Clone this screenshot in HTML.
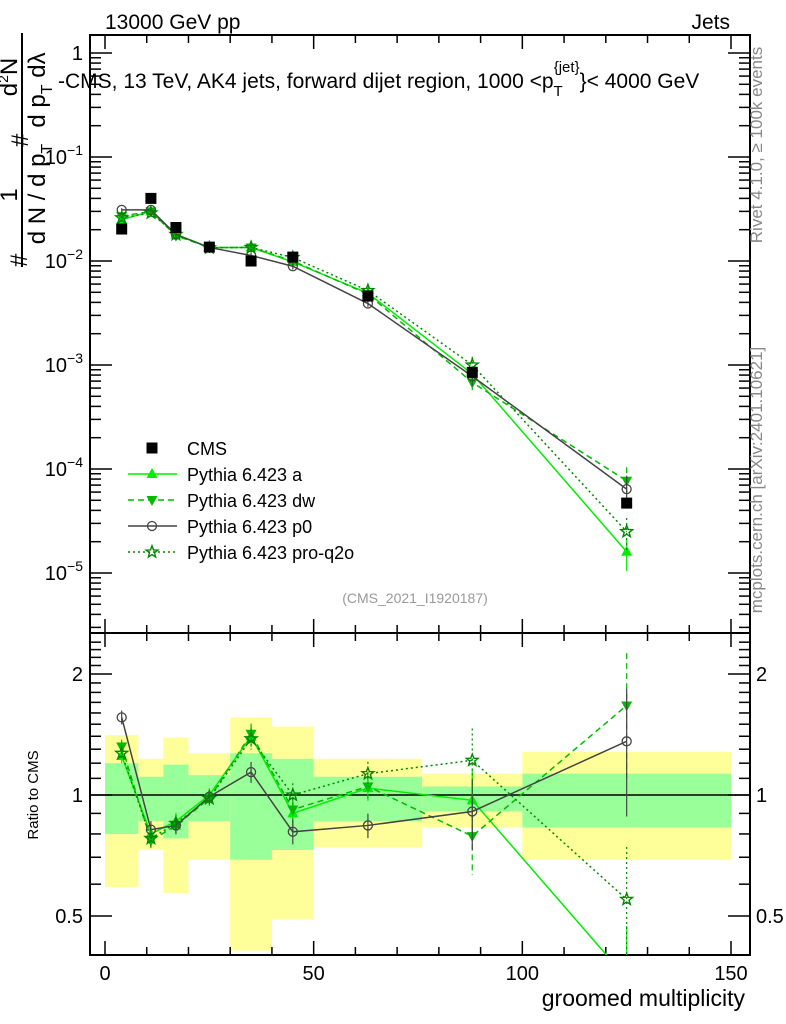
<!DOCTYPE html>
<html><head><meta charset="utf-8"><style>
body{margin:0;background:#fff;}
svg{display:block;font-family:"Liberation Sans",Arial,sans-serif;}
</style></head><body>
<svg id="chart" width="786" height="1024" viewBox="0 0 786 1024" xmlns="http://www.w3.org/2000/svg">
<g id="bands"></g>
<g id="axes"></g>
<g id="series"></g>
<text x="105" y="29" font-size="21">13000 GeV pp</text>
<text x="730" y="29" font-size="21" text-anchor="end">Jets</text>
<text x="58" y="88" font-size="21">-CMS, 13 TeV, AK4 jets, forward dijet region, 1000 &lt;p<tspan font-size="15" dy="8">T</tspan><tspan font-size="15" dx="-9" dy="-24">{jet}</tspan><tspan dy="16">}&lt; 4000 GeV</tspan></text>
<g font-size="24">
<line x1="22" y1="267" x2="22" y2="33" stroke="#000" stroke-width="2"/>
<text transform="translate(17,195) rotate(-90)" text-anchor="middle">1</text>
<text transform="translate(45,194) rotate(-90)" text-anchor="middle">d N / d p<tspan font-size="16" dy="7">T</tspan></text>
<text transform="translate(27,267) rotate(-90)" text-anchor="start">#</text>
<text transform="translate(28,147) rotate(-90)" text-anchor="start">#</text>
<text transform="translate(17,77) rotate(-90)" text-anchor="middle">d<tspan font-size="14" dy="-9">2</tspan><tspan dy="9">N</tspan></text>
<text transform="translate(45,90) rotate(-90)" text-anchor="middle">d p<tspan font-size="16" dy="7">T</tspan><tspan dy="-7">  dλ</tspan></text>
</g>
<text transform="translate(762,145) rotate(-90)" font-size="17" fill="#888" text-anchor="middle">Rivet 4.1.0, ≥ 100k events</text>
<text transform="translate(762,480) rotate(-90)" font-size="17" fill="#888" text-anchor="middle">mcplots.cern.ch [arXiv:2401.10621]</text>
<text x="415" y="603" font-size="14" fill="#999" text-anchor="middle">(CMS_2021_I1920187)</text>
<text transform="translate(38,795) rotate(-90)" font-size="15" text-anchor="middle">Ratio to CMS</text>
<text x="745" y="1006" font-size="23" text-anchor="end">groomed multiplicity</text>
<g id="legend"></g>
</svg>
<script>
const xCenters=[4,11,17,25,35,45,63,88,125];
const binEdges=[0,8,14,20,30,40,50,76,100,150];
const cmsVals=[0.0203,0.040,0.021,0.0136,0.0100,0.0109,0.0046,8.5e-4,4.7e-5];
const aVals=[0.025,0.030,0.018,0.0135,0.0135,0.0098,0.0049,8.2e-4,1.6e-5];
const dwVals=[0.027,0.030,0.0175,0.0135,0.0135,0.0100,0.0048,6.8e-4,7.7e-5];
const p0Vals=[0.031,0.031,0.018,0.0135,0.0113,0.0089,0.0039,7.8e-4,6.4e-5];
const pqVals=[0.026,0.029,0.018,0.0134,0.0135,0.0108,0.0052,1.0e-3,2.5e-5];
const aRatio=[1.25,0.80,0.86,1.0,1.40,0.90,1.04,0.97,0.35];
const dwRatio=[1.32,0.77,0.84,0.98,1.42,0.92,1.05,0.79,1.67];
const p0Ratio=[1.56,0.82,0.84,0.99,1.14,0.81,0.84,0.91,1.36];
const pqRatio=[1.27,0.78,0.85,0.98,1.38,1.0,1.13,1.22,0.55];
const relErr=[0.04,0.05,0.05,0.04,0.06,0.07,0.07,0.2,0.35];
const yellowHi=[1.41,1.23,1.39,1.27,1.56,1.48,1.23,1.13,1.28];
const yellowLo=[0.59,0.73,0.57,0.69,0.41,0.49,0.74,0.83,0.69];
const greenHi=[1.20,1.11,1.19,1.12,1.27,1.23,1.11,1.05,1.13];
const greenLo=[0.80,0.86,0.78,0.86,0.69,0.73,0.86,0.91,0.83];
const xTickLabels=[0,50,100,150];
const yTickExps=[0,-1,-2,-3,-4,-5];
const ratioTicks=[0.5,1,2];

const NS='http://www.w3.org/2000/svg';
const L=90,R=750,T=35,MID=633,B=955;
const X=v=>105+(v)*(731-105)/150;
const Y=v=>261-(Math.log10(v)+2)*104;
const YR=v=>795-Math.log2(v)*121;
function mk(tag,attrs,parent){const e=document.createElementNS(NS,tag);for(const k in attrs)e.setAttribute(k,attrs[k]);parent.appendChild(e);return e;}
const bands=document.getElementById('bands'),axes=document.getElementById('axes'),ser=document.getElementById('series'),leg=document.getElementById('legend');
const clipR=mk('clipPath',{id:'cr'},axes);mk('rect',{x:L,y:MID,width:R-L,height:B-MID},clipR);
const clipT=mk('clipPath',{id:'ct'},axes);mk('rect',{x:L,y:T,width:R-L,height:MID-T},clipT);
bands.setAttribute('clip-path','url(#cr)');
for(let i=0;i<yellowHi.length;i++){
 const x0=X(binEdges[i]),x1=X(binEdges[i+1]);
 let r=mk('rect',{x:x0,y:YR(yellowHi[i]),width:x1-x0,height:YR(yellowLo[i])-YR(yellowHi[i]),fill:'#ffff99'},bands);
 
 
 r=mk('rect',{x:x0,y:YR(greenHi[i]),width:x1-x0,height:YR(greenLo[i])-YR(greenHi[i]),fill:'#99ff99'},bands);
 
 
}
mk('rect',{x:L,y:T,width:R-L,height:MID-T,fill:'none',stroke:'#000','stroke-width':2},axes);
mk('rect',{x:L,y:MID,width:R-L,height:B-MID,fill:'none',stroke:'#000','stroke-width':2},axes);
mk('line',{x1:L,x2:R,y1:YR(1),y2:YR(1),stroke:'#000','stroke-width':1.5},axes);
for(let v=0;v<=150;v+=10){
 const big=v%50===0,len=big?14:8;
 for(const [y0,d] of [[T,1],[MID,-1],[MID,1],[B,-1]]) mk('line',{x1:X(v),x2:X(v),y1:y0,y2:y0+d*len,stroke:'#000','stroke-width':1.5},axes);
}
xTickLabels.forEach(v=>{const t=mk('text',{x:X(v),y:980,'font-size':20,'text-anchor':'middle'},axes);t.textContent=v;});
for(let e=-6;e<=0;e++){
 for(let m=1;m<10;m++){const v=m*Math.pow(10,e);const y=Y(v);if(y<T||y>MID)continue;const len=m===1?22:11;
  mk('line',{x1:L,x2:L+len,y1:y,y2:y,stroke:'#000','stroke-width':1.5},axes);
  mk('line',{x1:R,x2:R-len,y1:y,y2:y,stroke:'#000','stroke-width':1.5},axes);}
}
yTickExps.forEach(e=>{const t=mk('text',{x:83,y:Y(Math.pow(10,e))+7,'font-size':20,'text-anchor':'end'},axes);
 if(e===0)t.textContent='1';else{t.textContent='10';const s=mk('tspan',{'font-size':14,dy:-9},t);s.textContent='−'+(-e);}
 });
for(let v=0.4;v<=2.5;v+=0.1){const y=YR(v);if(y<MID||y>B)continue;const major=Math.abs(v-0.5)<1e-6||Math.abs(v-1)<1e-6||Math.abs(v-2)<1e-6;const len=major?22:11;
 mk('line',{x1:L,x2:L+len,y1:y,y2:y,stroke:'#000','stroke-width':1.5},axes);mk('line',{x1:R,x2:R-len,y1:y,y2:y,stroke:'#000','stroke-width':1.5},axes);}
ratioTicks.forEach(v=>{for(const [x,a] of [[83,'end'],[756,'start']]){const t=mk('text',{x:x,y:YR(v)+7,'font-size':20,'text-anchor':a},axes);t.textContent=v;}});
function marker(kind,x,y,col,g){
 if(kind==='sq')return mk('rect',{x:x-5.5,y:y-5.5,width:11,height:11,fill:'#000'},g);
 if(kind==='up')return mk('polygon',{points:`${x},${y-6} ${x-5.5},${y+4} ${x+5.5},${y+4}`,fill:col},g);
 if(kind==='dn')return mk('polygon',{points:`${x},${y+6} ${x-5.5},${y-4} ${x+5.5},${y-4}`,fill:col},g);
 if(kind==='ci')return mk('circle',{cx:x,cy:y,r:4.5,fill:'none',stroke:col,'stroke-width':1.3},g);
 let p=[];for(let k=0;k<10;k++){const r=k%2?2.6:6.2,a=-Math.PI/2+k*Math.PI/5;p.push((x+r*Math.cos(a)).toFixed(1)+','+(y+r*Math.sin(a)).toFixed(1));}
 return mk('polygon',{points:p.join(' '),fill:'none',stroke:col,'stroke-width':1.4},g);
}
const defs=[
 {name:'pythia-a',vals:aVals,ratio:aRatio,col:'#00ee00',dash:'',m:'up'},
 {name:'pythia-dw',vals:dwVals,ratio:dwRatio,col:'#00bb00',dash:'6,4',m:'dn'},
 {name:'pythia-p0',vals:p0Vals,ratio:p0Ratio,col:'#444',dash:'',m:'ci'},
 {name:'pythia-pro-q2o',vals:pqVals,ratio:pqRatio,col:'#008800',dash:'2,3',m:'st'}];
defs.forEach(d=>{
 const gT=mk('g',{'clip-path':'url(#ct)'},ser);
 
 
 mk('polyline',{points:xCenters.map((x,i)=>X(x)+','+Y(d.vals[i])).join(' '),fill:'none',stroke:d.col,'stroke-width':1.5,'stroke-dasharray':d.dash},gT);
 xCenters.forEach((x,i)=>{const e=relErr[i];mk('line',{x1:X(x),x2:X(x),y1:Y(d.vals[i]*(1+e)),y2:Y(Math.max(d.vals[i]*(1-e),1e-7)),stroke:d.col,'stroke-width':1.2,'stroke-dasharray':d.dash},gT);
  const mm=marker(d.m,X(x),Y(d.vals[i]),d.col,gT);});
 const gR=mk('g',{'clip-path':'url(#cr)'},ser);
 
 
 mk('polyline',{points:xCenters.map((x,i)=>X(x)+','+YR(d.ratio[i])).join(' '),fill:'none',stroke:d.col,'stroke-width':1.5,'stroke-dasharray':d.dash},gR);
 xCenters.forEach((x,i)=>{const e=relErr[i];mk('line',{x1:X(x),x2:X(x),y1:YR(d.ratio[i]*(1+e)),y2:YR(Math.max(d.ratio[i]*(1-e),0.01)),stroke:d.col,'stroke-width':1.2,'stroke-dasharray':d.dash},gR);
  const mm=marker(d.m,X(x),YR(d.ratio[i]),d.col,gR);});
});
const gC=mk('g',{},ser);


xCenters.forEach((x,i)=>{const mm=marker('sq',X(x),Y(cmsVals[i]),'#000',gC);});
const legItems=[{t:'CMS',m:'sq',col:'#000',dash:null},{t:'Pythia 6.423 a',m:'up',col:'#00ee00',dash:''},{t:'Pythia 6.423 dw',m:'dn',col:'#00bb00',dash:'6,4'},{t:'Pythia 6.423 p0',m:'ci',col:'#444',dash:''},{t:'Pythia 6.423 pro-q2o',m:'st',col:'#008800',dash:'2,3'}];
legItems.forEach((it,i)=>{const y=448+26*i;const g=mk('g',{},leg);
 
 
 if(it.dash!==null)mk('line',{x1:128,x2:177,y1:y,y2:y,stroke:it.col,'stroke-width':1.5,'stroke-dasharray':it.dash},g);
 marker(it.m,152,y,it.col,g);
 const t=mk('text',{x:187,y:y+7,'font-size':18},g);t.textContent=it.t;});
</script>
</body></html>
